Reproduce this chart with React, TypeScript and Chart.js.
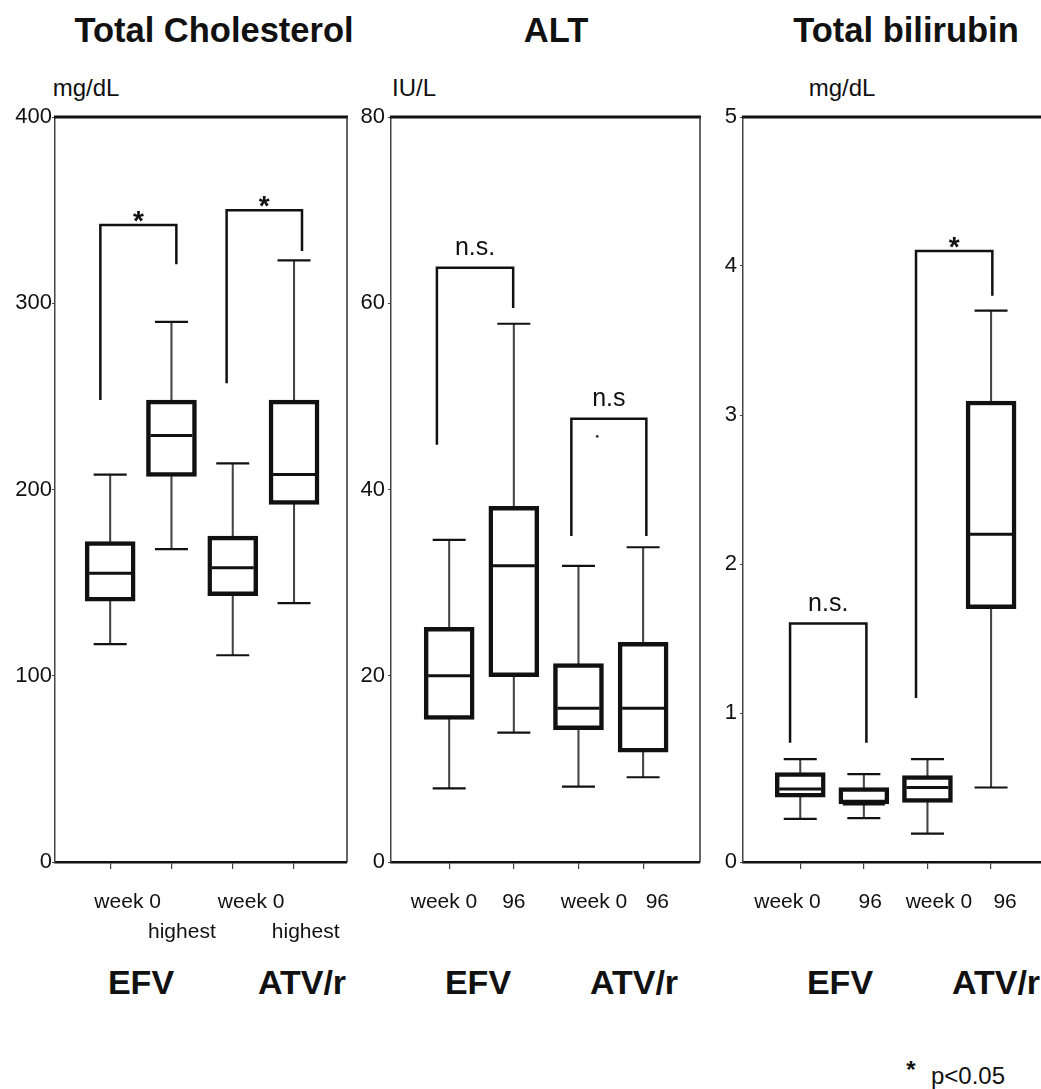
import React, { useEffect, useRef } from "react";
import { Chart, registerables } from "chart.js";

Chart.register(...registerables);

const FONT = "'Liberation Sans', Arial, Helvetica, sans-serif";
Chart.defaults.font.family = FONT;
Chart.defaults.color = "#111";

// ---------------- data ----------------
const boxPositions = [1, 2, 3, 4];

// Total Cholesterol (mg/dL): EFV week 0, EFV highest, ATV/r week 0, ATV/r highest
const cholLabels = [["week 0"], ["", "highest"], ["week 0"], ["", "highest"]];
const cholMin = [117, 168, 111, 139];
const cholQ1 = [140, 207, 143, 192];
const cholMedian = [155, 229, 158, 208];
const cholQ3 = [172, 248, 175, 248];
const cholMax = [208, 290, 214, 323];
const cholBracketX = [[0.84, 2.08], [2.9, 4.13]];
const cholBracketY = [[248, 342, 321], [257, 350, 328]]; // left end, top, right end
const cholBracketText = ["*", "*"];

// ALT (IU/L): EFV week 0, 96, ATV/r week 0, 96
const altLabels = ["week 0", "96", "week 0", "96"];
const altMin = [7.9, 13.9, 8.1, 9.1];
const altQ1 = [15.3, 19.9, 14.2, 11.8];
const altMedian = [20, 31.8, 16.5, 16.5];
const altQ3 = [25.2, 38.2, 21.3, 23.6];
const altMax = [34.6, 57.8, 31.8, 33.8];
const altBracketX = [[0.81, 1.99], [2.89, 4.05]];
const altBracketY = [[44.8, 63.8, 59.5], [35, 47.6, 35]];
const altBracketText = ["n.s.", "n.s"];
const altStrayDots = [{ x: 3.29, y: 45.7 }];

// Total bilirubin (mg/dL): EFV week 0, 96, ATV/r week 0, 96
const biliLabels = ["week 0", "96", "week 0", "96"];
const biliMin = [0.29, 0.295, 0.19, 0.5];
const biliQ1 = [0.435, 0.39, 0.4, 1.7];
const biliMedian = [0.49, 0.39, 0.5, 2.2];
const biliQ3 = [0.6, 0.5, 0.58, 3.094];
const biliMax = [0.69, 0.59, 0.69, 3.7];
const biliBracketX = [[0.84, 2.04], [2.82, 4.02]];
const biliBracketY = [[0.8, 1.6, 0.8], [1.1, 4.1, 3.8]];
const biliBracketText = ["n.s.", "*"];

// ---------------- layout ----------------
type Panel = {
  min: number[]; q1: number[]; med: number[]; q3: number[]; max: number[];
  labels: (string | string[])[]; labelAt: number[];
  yMax: number; yStep: number;
  bracketX: number[][]; bracketY: number[][]; bracketText: string[];
  dots?: { x: number; y: number }[];
  left: number; width: number; yAxisWidth: number; padRight: number; xMax: number; yPad: number; drawRight: boolean;
};

const CANVAS_TOP = 100;
const CANVAS_H = 860;

const panels: Panel[] = [
  {
    min: cholMin, q1: cholQ1, med: cholMedian, q3: cholQ3, max: cholMax,
    labels: cholLabels, labelAt: [1.285, 2.17, 3.3, 4.19],
    yMax: 400, yStep: 100,
    bracketX: cholBracketX, bracketY: cholBracketY, bracketText: cholBracketText,
    left: 0, width: 352, yAxisWidth: 55, padRight: 5, xMax: 4.864, yPad: 0, drawRight: true,
  },
  {
    min: altMin, q1: altQ1, med: altMedian, q3: altQ3, max: altMax,
    labels: altLabels, labelAt: [0.92, 2.0, 3.24, 4.22],
    yMax: 80, yStep: 20,
    bracketX: altBracketX, bracketY: altBracketY, bracketText: altBracketText, dots: altStrayDots,
    left: 352, width: 354, yAxisWidth: 39, padRight: 6, xMax: 4.88, yPad: 3, drawRight: true,
  },
  {
    min: biliMin, q1: biliQ1, med: biliMedian, q3: biliQ3, max: biliMax,
    labels: biliLabels, labelAt: [0.8, 2.1, 3.18, 4.22],
    yMax: 5, yStep: 1,
    bracketX: biliBracketX, bracketY: biliBracketY, bracketText: biliBracketText,
    left: 706, width: 335, yAxisWidth: 37, padRight: 0, xMax: 4.785, yPad: 3, drawRight: false,
  },
];

function BoxPanel({ p }: { p: Panel }) {
  const ref = useRef<HTMLCanvasElement>(null);
  useEffect(() => {
    const canvas = ref.current;
    if (!canvas) return;
    const plugin = {
      id: "frameAndLabels",
      afterDatasetsDraw(chart: any) {
        const { ctx, chartArea: a, scales } = chart;
        const xs = scales.x;
        const ys = scales.y;
        ctx.save();
        ctx.strokeStyle = "#111";
        ctx.lineWidth = 2.8;
        ctx.beginPath();
        ctx.moveTo(a.left - 1, a.top);
        ctx.lineTo(a.right + 1, a.top);
        ctx.stroke();
        if (p.drawRight) {
          ctx.lineWidth = 1.5;
          ctx.strokeStyle = "#333";
          ctx.beginPath();
          ctx.moveTo(a.right, a.top);
          ctx.lineTo(a.right, a.bottom);
          ctx.stroke();
        }
        ctx.fillStyle = "#111";
        ctx.textAlign = "center";
        ctx.textBaseline = "alphabetic";
        p.bracketText.forEach((t, k) => {
          const cx = xs.getPixelForValue((p.bracketX[k][0] + p.bracketX[k][1]) / 2);
          const top = ys.getPixelForValue(p.bracketY[k][1]);
          if (t === "*") {
            ctx.font = `bold 28px ${FONT}`;
            ctx.fillText(t, cx, top + 5);
          } else {
            ctx.font = `25px ${FONT}`;
            ctx.fillText(t, cx, top - 13);
          }
        });
        ctx.restore();
      },
    };

    const common = { xAxisID: "x", yAxisID: "y" };
    const datasets: any[] = [
      {
        ...common, type: "bar",
        data: boxPositions.map((x, i) => ({ x, y: [p.min[i], p.max[i]] })),
        backgroundColor: "#444", borderWidth: 0, barThickness: 1.4, grouped: false, order: 6,
      },
      {
        ...common, type: "bar",
        data: boxPositions.map((x, i) => ({ x, y: [p.q1[i], p.q3[i]] })),
        backgroundColor: "#fff", borderColor: "#111", borderWidth: 4.5, borderSkipped: false,
        barThickness: 50, grouped: false, order: 5,
      },
      ...p.bracketX.map((bx, k) => ({
        ...common, type: "line",
        data: [
          { x: bx[0], y: p.bracketY[k][0] },
          { x: bx[0], y: p.bracketY[k][1] },
          { x: bx[1], y: p.bracketY[k][1] },
          { x: bx[1], y: p.bracketY[k][2] },
        ],
        borderColor: "#111", borderWidth: 2.5, pointRadius: 0, fill: false, tension: 0,
        borderJoinStyle: "miter", order: 4,
      })),
      {
        ...common, type: "scatter",
        data: [
          ...boxPositions.map((x, i) => ({ x, y: p.max[i] })),
          ...boxPositions.map((x, i) => ({ x, y: p.min[i] })),
        ],
        pointStyle: "line", pointRadius: 16.5, pointHoverRadius: 16.5,
        borderColor: "#111", pointBorderColor: "#111", pointBorderWidth: 2.2, showLine: false, order: 2,
      },
      {
        ...common, type: "scatter",
        data: boxPositions.map((x, i) => ({ x, y: p.med[i] })),
        pointStyle: "line", pointRadius: 21, pointHoverRadius: 21,
        borderColor: "#111", pointBorderColor: "#111", pointBorderWidth: 3, showLine: false, order: 1,
      },
    ];
    if (p.dots) {
      datasets.push({
        ...common, type: "scatter", data: p.dots,
        pointStyle: "circle", pointRadius: 1.4, backgroundColor: "#333", pointBackgroundColor: "#333",
        pointBorderWidth: 0, order: 1,
      });
    }

    const chart = new Chart(canvas, {
      type: "bar",
      data: { datasets },
      plugins: [plugin],
      options: {
        responsive: false,
        animation: false,
        events: [],
        layout: { autoPadding: false, padding: { top: 17, right: p.padRight, left: 0, bottom: 0 } },
        plugins: { legend: { display: false }, tooltip: { enabled: false } },
        scales: {
          x: {
            type: "linear", position: "bottom", min: 0.1, max: p.xMax, offset: false, weight: 0,
            afterBuildTicks: (s: any) => { s.ticks = boxPositions.map((v) => ({ value: v })); },
            ticks: { display: false, padding: 0 },
            grid: { display: true, drawOnChartArea: false, drawTicks: true, tickLength: 7, color: "#444", lineWidth: 1.2, offset: false },
            border: { display: true, color: "#111", width: 2.5 },
            afterFit: (s: any) => { s.height = 26; },
          },
          xl: {
            type: "linear", position: "bottom", min: 0.1, max: p.xMax, offset: false, weight: 1,
            afterBuildTicks: (s: any) => { s.ticks = p.labelAt.map((v) => ({ value: v })); },
            ticks: {
              autoSkip: false, maxRotation: 0, minRotation: 0, padding: 0, color: "#111",
              font: { family: FONT, size: 21, lineHeight: 1.4 },
              callback: (_v: any, i: number) => p.labels[i],
            },
            grid: { display: false, drawTicks: false, offset: false },
            border: { display: false },
            afterFit: (s: any) => { s.height = 72; },
          },
          y: {
            type: "linear", position: "left", min: 0, max: p.yMax,
            ticks: { stepSize: p.yStep, padding: p.yPad, color: "#111", font: { family: FONT, size: 22 } },
            grid: { display: true, drawOnChartArea: false, drawTicks: true, tickLength: 3, color: "#444", lineWidth: 1 },
            border: { display: true, color: "#444", width: 1.5 },
            afterFit: (s: any) => { s.width = p.yAxisWidth; },
          },
        },
      } as any,
    });
    return () => chart.destroy();
  }, [p]);
  return (
    <canvas
      ref={ref}
      width={p.width}
      height={CANVAS_H}
      style={{ position: "absolute", left: p.left, top: CANVAS_TOP, width: p.width, height: CANVAS_H }}
    />
  );
}

type TextItem = { text: string; x: number; y: number; size: number; bold?: boolean };

const texts: TextItem[] = [
  { text: "Total Cholesterol", x: 214, y: 30, size: 34.5, bold: true },
  { text: "ALT", x: 556, y: 30, size: 34.5, bold: true },
  { text: "Total bilirubin", x: 906, y: 30, size: 34.5, bold: true },
  { text: "mg/dL", x: 86, y: 88, size: 24 },
  { text: "IU/L", x: 414, y: 88, size: 24 },
  { text: "mg/dL", x: 842, y: 88, size: 24 },
  { text: "EFV", x: 141, y: 982, size: 34, bold: true },
  { text: "ATV/r", x: 302, y: 982, size: 34, bold: true },
  { text: "EFV", x: 478, y: 982, size: 34, bold: true },
  { text: "ATV/r", x: 634, y: 982, size: 34, bold: true },
  { text: "EFV", x: 840, y: 982, size: 34, bold: true },
  { text: "ATV/r", x: 996, y: 982, size: 34, bold: true },
  { text: "*", x: 911, y: 1070, size: 24, bold: true },
  { text: "p<0.05", x: 968, y: 1076, size: 24 },
];

export default function App() {
  return (
    <div
      style={{
        position: "absolute", left: 0, top: 0, width: 1041, height: 1089, overflow: "hidden",
        background: "#fff", fontFamily: FONT, color: "#111",
      }}
    >
      {texts.map((t, i) => (
        <div
          key={i}
          style={{
            position: "absolute", left: t.x, top: t.y, transform: "translate(-50%, -50%)",
            fontSize: t.size, fontWeight: t.bold ? 700 : 400, whiteSpace: "nowrap", lineHeight: 1,
          }}
        >
          {t.text}
        </div>
      ))}
      {panels.map((p, i) => (
        <BoxPanel key={i} p={p} />
      ))}
    </div>
  );
}
